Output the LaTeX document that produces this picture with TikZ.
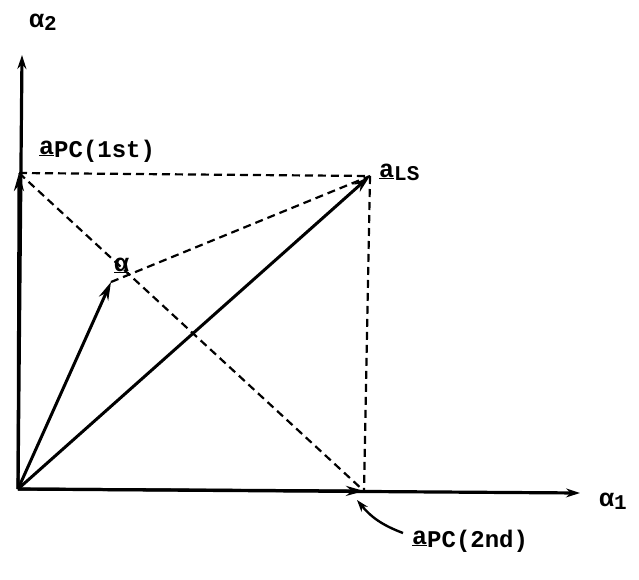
\documentclass[tikz,border=0pt]{standalone}
\usepackage{fontspec}
\setmonofont{Liberation Mono}
\usetikzlibrary{arrows.meta}
\newcommand{\lbl}[1]{{\fontsize{25}{28}\selectfont\ttfamily\bfseries #1}}
\newcommand{\subl}[1]{\raisebox{-3pt}{\fontsize{24}{26}\selectfont\ttfamily\bfseries #1}}
\newcommand{\subs}[1]{\raisebox{-3pt}{\fontsize{21}{24}\selectfont\ttfamily\bfseries #1}}
\begin{document}
\begin{tikzpicture}[x=1pt,y=-1pt,
  vec/.style={line width=3pt,-{Stealth[length=18pt,width=10pt]}},
  axis/.style={line width=3.2pt,-{Stealth[length=14pt,width=9pt]}},
  dsh/.style={line width=2.2pt,dash pattern=on 8pt off 5pt},
  txt/.style={inner sep=0pt,anchor=base west}]
\useasboundingbox (0,0) rectangle (639,579);
\coordinate (O) at (18,489);
\coordinate (Y) at (22,55);
\coordinate (X) at (580,493);
\coordinate (P1) at (19,173);
\coordinate (P2) at (364,491);
\coordinate (LS) at (370,176);
\coordinate (A) at (111,282);
\draw[axis] (O) -- (Y);
\draw[axis] (O) -- (X);
\draw[dsh] (P1) -- (LS);
\draw[dsh] (LS) -- (P2);
\draw[dsh] (P1) -- (P2);
\draw[dsh] (A) -- (LS);
\draw[vec] (O) -- (P1);
\draw[vec] (O) -- (P2);
\draw[vec] (O) -- (LS);
\draw[vec] (O) -- (A);
\node[txt] (ly) at (29,27) {\lbl{α}\subs{2}};
\node[txt] (lx) at (599,506) {\lbl{α}\subs{1}};
\node[txt] (l1) at (39,154) {\lbl{\underline{a}}\subl{PC(1st)}};
\node[txt] (lls) at (379,177) {\lbl{\underline{a}}\subs{LS}};
\node[txt] (la) at (114,271) {\lbl{\underline{α}}};
\node[txt] (l2) at (412,544) {\lbl{\underline{a}}\subl{PC(2nd)}};
\draw[line width=2.4pt,-{Stealth[length=12pt,width=8pt]}] (403,533) to[bend left=15] (357,500);
\end{tikzpicture}
\end{document}
